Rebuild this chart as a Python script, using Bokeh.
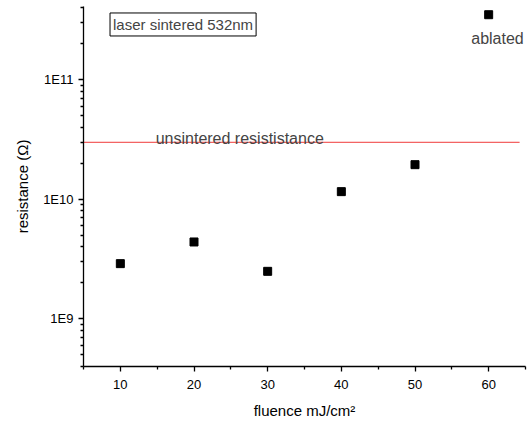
from bokeh.plotting import figure
from bokeh.models import Range1d, FixedTicker, CustomJSTickFormatter, Label, ColumnDataSource
from bokeh.embed import file_html
from bokeh.resources import INLINE

# data
fluence = [10, 20, 30, 40, 50, 60]
resistance = [2.9e9, 4.4e9, 2.5e9, 1.16e10, 1.95e10, 3.5e11]
unsintered = 3.0e10
x_ticks = [10, 20, 30, 40, 50, 60]
x_minor = [5, 15, 25, 35, 45, 55, 65]
decades = [1e8, 1e9, 1e10, 1e11]
y_ticks = [1e9, 1e10, 1e11]

FONT = "Liberation Sans"

p = figure(width=527, height=424, output_backend="svg", toolbar_location=None,
           y_axis_type="log", x_range=Range1d(5, 65), y_range=Range1d(4.0e8, 4.1e11),
           min_border_left=83, min_border_right=2, min_border_top=6, min_border_bottom=58)
p.outline_line_color = None
p.xgrid.visible = False
p.ygrid.visible = False
p.background_fill_color = "white"
p.border_fill_color = "white"

# unsintered line
p.line(x=[5, 64.2], y=[unsintered, unsintered], line_color="#f03a3a", line_width=1)

src = ColumnDataSource(dict(x=fluence, y=resistance))
p.scatter("x", "y", source=src, marker="square", size=8, fill_color="black", line_color="black")

# axes
p.xaxis.ticker = FixedTicker(ticks=x_ticks, minor_ticks=x_minor)
p.yaxis.ticker = FixedTicker(ticks=y_ticks,
                             minor_ticks=[k * d for d in decades for k in range(2, 10)])
p.yaxis.formatter = CustomJSTickFormatter(code="return '1E' + Math.round(Math.log10(tick));")

for ax in (p.xaxis, p.yaxis):
    ax.axis_line_color = "black"
    ax.axis_line_width = 1.3
    ax.major_tick_line_color = "black"
    ax.minor_tick_line_color = "black"
    ax.major_tick_line_width = 1.3
    ax.minor_tick_line_width = 1.3
    ax.major_tick_in = 0
    ax.major_tick_out = 5
    ax.minor_tick_in = 0
    ax.minor_tick_out = 3
    ax.major_label_text_font = FONT
    ax.major_label_text_font_size = "13px"
    ax.major_label_text_color = "black"
    ax.axis_label_text_font = FONT
    ax.axis_label_text_font_size = "15px"
    ax.axis_label_text_font_style = "normal"
    ax.axis_label_text_color = "black"

p.xaxis.axis_label = "fluence mJ/cm²"
p.yaxis.axis_label = "resistance (Ω)"
p.xaxis.major_label_standoff = 8
p.xaxis.axis_label_standoff = 10
p.yaxis.major_label_standoff = 5
p.yaxis.axis_label_standoff = 9

# annotations
p.add_layout(Label(x=8.6, y=2.9e11, text="laser sintered 532nm", text_font=FONT,
                   text_font_size="15px", text_baseline="middle", text_align="left",
                   border_line_color="black", border_line_width=1,
                   background_fill_color="white", padding=3))
p.add_layout(Label(x=61.2, y=2.2e11, text="ablated", text_font=FONT,
                   text_font_size="16px", text_baseline="middle", text_align="center"))
p.add_layout(Label(x=14.8, y=3.2e10, text="unsintered resististance", text_font=FONT,
                   text_font_size="16px", text_baseline="alphabetic", text_align="left"))

open("out.html", "w").write(file_html(p, INLINE))
